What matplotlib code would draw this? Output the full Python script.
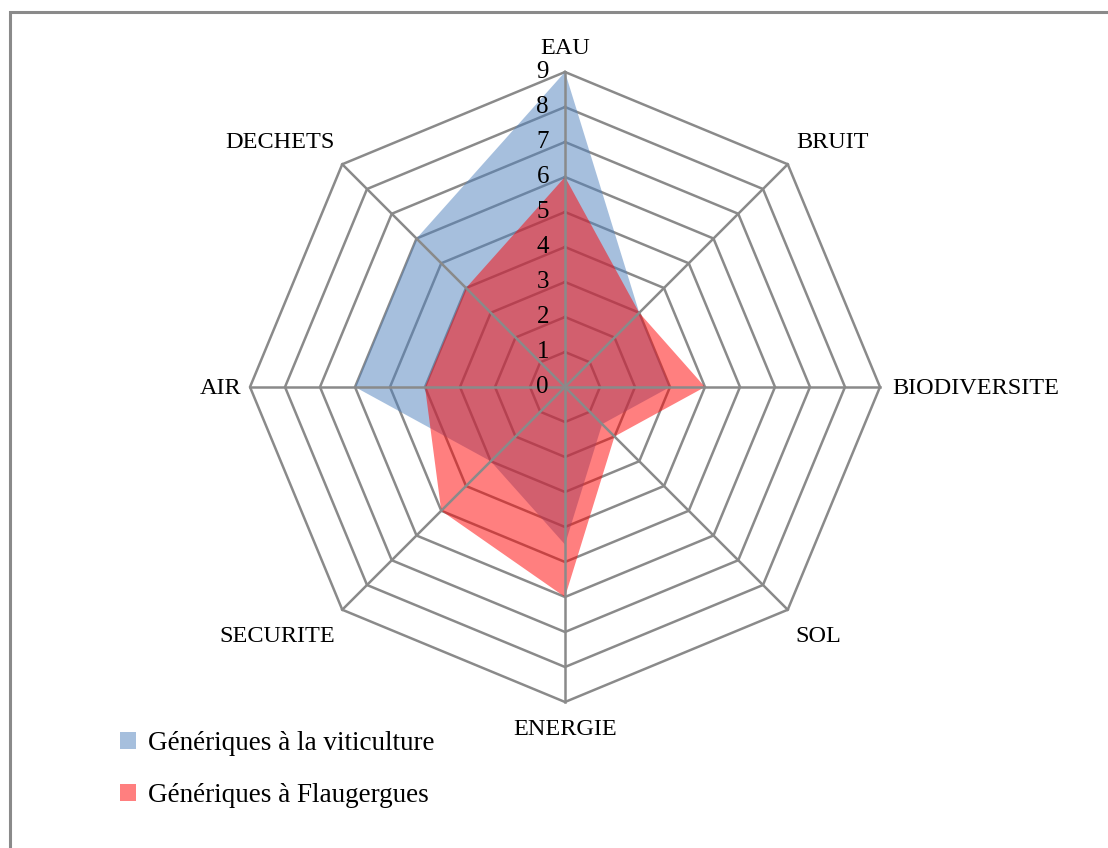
import numpy as np
import matplotlib
matplotlib.use("Agg")
import matplotlib.pyplot as plt
from matplotlib.patches import Patch, Rectangle

categories = ["EAU", "BRUIT", "BIODIVERSITE", "SOL", "ENERGIE", "SECURITE", "AIR", "DECHETS"]
viticulture = [9, 3, 3, 1.5, 4.5, 3, 6, 6]
flaugergues = [6, 3, 4, 2, 6, 5, 4, 4]
series_names = ["Génériques à la viticulture", "Génériques à Flaugergues"]
tick_values = list(range(0, 10))

W, H, DPI = 1108, 848, 100
cx, cy, unit = 565, 387, 35.0

fig = plt.figure(figsize=(W / DPI, H / DPI), dpi=DPI)
ax = fig.add_axes([0, 0, 1, 1])
ax.set_xlim(-cx / unit, (W - cx) / unit)
ax.set_ylim(-(H - cy) / unit, cy / unit)
ax.set_aspect("equal")
ax.axis("off")

serif = ["Liberation Serif", "DejaVu Serif"]
grid_col = "#8a8a8a"
n = len(categories)
ang = np.deg2rad(90 - 45 * np.arange(n))
ca, sa = np.cos(ang), np.sin(ang)
rmax = max(tick_values)

# rings (below fills)
for r in tick_values[1:]:
    xs = np.append(r * ca, r * ca[0])
    ys = np.append(r * sa, r * sa[0])
    ax.plot(xs, ys, color=grid_col, lw=1.8, zorder=1, solid_joinstyle="miter")

# fills
for vals, col in [(viticulture, "#4F81BD"), (flaugergues, "#FF0000")]:
    v = np.array(vals, dtype=float)
    ax.fill(v * ca, v * sa, color=col, alpha=0.5, lw=0, zorder=2)

# spokes (above fills)
for i in range(n):
    ax.plot([0, rmax * ca[i]], [0, rmax * sa[i]], color=grid_col, lw=1.8, zorder=3)

# tick labels
for t in tick_values:
    ax.text(-16 / unit, t, str(t), ha="right", va="center", fontsize=18,
            family=serif, zorder=4)

# category labels
lab_pos = {
    "EAU": (0, 339, "center"),
    "BRUIT": (268, 244, "center"),
    "BIODIVERSITE": (327, -1, "left"),
    "SOL": (253, -249, "center"),
    "ENERGIE": (0, -342, "center"),
    "SECURITE": (-288, -249, "center"),
    "AIR": (-324, -1, "right"),
    "DECHETS": (-285, 244, "center"),
}
for c in categories:
    dx, dy, ha = lab_pos[c]
    ax.text(dx / unit, dy / unit, c, ha=ha, va="center", fontsize=17.5,
            family=serif)

handles = [Patch(facecolor="#4F81BD", alpha=0.5, edgecolor="none"),
           Patch(facecolor="#FF0000", alpha=0.5, edgecolor="none")]
fig.legend(handles, series_names, loc="upper left",
           bbox_to_anchor=(120 / W, 1 - 731 / H), frameon=False, borderpad=0,
           borderaxespad=0,
           prop={"family": serif, "size": 19.5}, handlelength=0.6,
           handleheight=0.6, handletextpad=0.42, labelspacing=1.0)

fig.add_artist(Rectangle((10 / W, -0.05), 1.5, 1 - 12 / H + 0.05,
                         transform=fig.transFigure, fill=False,
                         edgecolor="#8a8a8a", lw=2.2))

fig.savefig("out.png", dpi=DPI, facecolor="white")
